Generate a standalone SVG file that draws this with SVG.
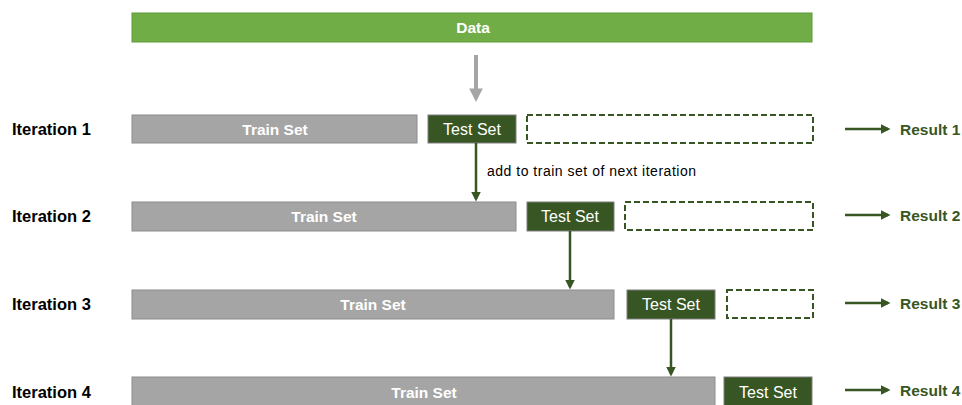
<svg xmlns="http://www.w3.org/2000/svg" width="962" height="405" viewBox="0 0 962 405">
<style>
.lbl{font-family:"Liberation Sans",Arial,sans-serif;font-size:16.5px;font-weight:bold;fill:#000}
.res{font-family:"Liberation Sans",Arial,sans-serif;font-size:15.5px;font-weight:bold;fill:#375623}
.train{fill:#A5A5A5;stroke:#8C8C8C;stroke-width:1}
.test{fill:#375623;stroke:#7F7F7F;stroke-width:1}
.dash{fill:none;stroke:#375623;stroke-width:2;stroke-dasharray:6,3}
.tt{font-family:"Liberation Sans",Arial,sans-serif;font-size:15.5px;font-weight:bold;fill:#fff;text-anchor:middle}
.ts{font-family:"Liberation Sans",Arial,sans-serif;font-size:16px;fill:#fff;text-anchor:middle}
.gl{stroke:#375623;stroke-width:2.5;fill:none}
</style>
<defs>
<marker id="ag" markerWidth="4" markerHeight="4" refX="3" refY="2" orient="auto" markerUnits="strokeWidth"><path d="M0,0 L4,2 L0,4 z" fill="#375623"/></marker>
<marker id="agr" markerWidth="3.4" markerHeight="3.4" refX="2.4" refY="1.7" orient="auto" markerUnits="strokeWidth"><path d="M0,0 L3.4,1.7 L0,3.4 z" fill="#A5A5A5"/></marker>
</defs>
<g id="data"><rect x="132" y="13" width="680" height="29" fill="#70AD47" stroke="#5E9A3A"/><text class="tt" x="473" y="33">Data</text></g>
<g id="labels">
<text class="lbl" x="12" y="135">Iteration 1</text>
<text class="lbl" x="12" y="222">Iteration 2</text>
<text class="lbl" x="12" y="310">Iteration 3</text>
<text class="lbl" x="12" y="398">Iteration 4</text>
</g>
<g id="row1">
<rect class="train" x="132" y="115" width="285" height="28"/><text class="tt" x="275" y="135">Train Set</text>
<rect class="test" x="428" y="115" width="88" height="28"/><text class="ts" x="472" y="135">Test Set</text>
<rect class="dash" x="527" y="115" width="286" height="28"/>
</g>
<g id="row2">
<rect class="train" x="132" y="202" width="384" height="29"/><text class="tt" x="324" y="222">Train Set</text>
<rect class="test" x="527" y="202" width="87" height="29"/><text class="ts" x="570" y="222">Test Set</text>
<rect class="dash" x="625" y="202" width="188" height="28"/>
</g>
<g id="row3">
<rect class="train" x="132" y="290" width="482" height="29"/><text class="tt" x="373" y="310">Train Set</text>
<rect class="test" x="627" y="290" width="88" height="29"/><text class="ts" x="671" y="310">Test Set</text>
<rect class="dash" x="727" y="290" width="86" height="28"/>
</g>
<g id="row4">
<rect class="train" x="132" y="377" width="583" height="29"/><text class="tt" x="424" y="398">Train Set</text>
<rect class="test" x="724" y="377" width="88" height="29"/><text class="ts" x="768" y="398">Test Set</text>
</g>
<g id="results">
<text class="res" x="900" y="135">Result 1</text>
<text class="res" x="900" y="221">Result 2</text>
<text class="res" x="900" y="309">Result 3</text>
<text class="res" x="900" y="396">Result 4</text>
</g>
<g id="connectors">
<line x1="476" y1="55" x2="476" y2="98" stroke="#A5A5A5" stroke-width="4" marker-end="url(#agr)"/>
<line class="gl" x1="476" y1="143" x2="476" y2="199" marker-end="url(#ag)"/>
<line class="gl" x1="570" y1="231" x2="570" y2="287" marker-end="url(#ag)"/>
<line class="gl" x1="671" y1="319" x2="671" y2="374" marker-end="url(#ag)"/>
<line class="gl" x1="845" y1="129" x2="888" y2="129" marker-end="url(#ag)"/>
<line class="gl" x1="845" y1="215" x2="888" y2="215" marker-end="url(#ag)"/>
<line class="gl" x1="845" y1="303" x2="888" y2="303" marker-end="url(#ag)"/>
<line class="gl" x1="845" y1="390" x2="888" y2="390" marker-end="url(#ag)"/>
<text x="487" y="176" font-family="Liberation Sans,Arial,sans-serif" font-size="14" fill="#000" textLength="209" lengthAdjust="spacing">add to train set of next iteration</text>
</g>
</svg>
